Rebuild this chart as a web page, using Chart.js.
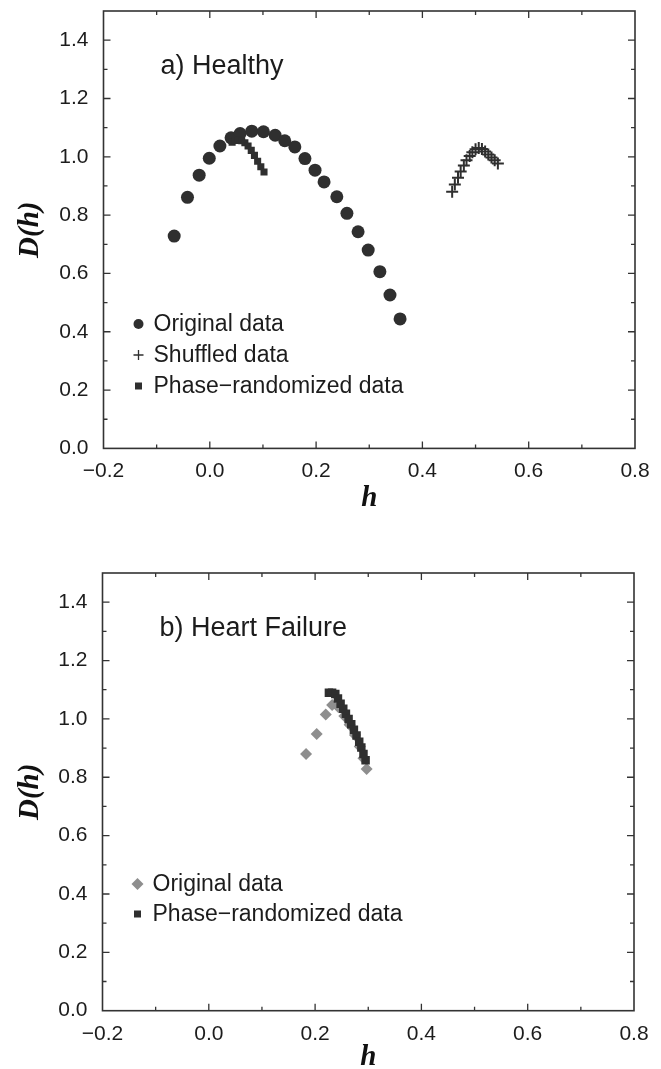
<!DOCTYPE html>
<html>
<head>
<meta charset="utf-8">
<script src="https://cdn.jsdelivr.net/npm/chart.js@4.4.0/dist/chart.umd.min.js"></script>
<style>
  html, body { margin: 0; padding: 0; background: #fff; overflow: hidden; }
  canvas { position: absolute; left: 0; }
  #topChart { top: 0; }
  #bottomChart { top: 530px; }
</style>
</head>
<body>
<canvas id="topChart" width="661" height="530"></canvas>
<canvas id="bottomChart" width="661" height="550"></canvas>
<script>
// a) Healthy
const healthyOrigH = [-0.067, -0.042, -0.020, -0.001, 0.019, 0.040, 0.057, 0.079, 0.101, 0.123, 0.141, 0.160, 0.179, 0.198, 0.215, 0.239, 0.258, 0.279, 0.298, 0.320, 0.339, 0.358];
const healthyOrigD = [0.728, 0.861, 0.937, 0.995, 1.037, 1.065, 1.080, 1.088, 1.086, 1.074, 1.055, 1.034, 0.994, 0.954, 0.914, 0.863, 0.806, 0.743, 0.680, 0.606, 0.526, 0.444];
const healthyShufH = [0.456, 0.461, 0.467, 0.472, 0.478, 0.483, 0.489, 0.494, 0.500, 0.506, 0.512, 0.518, 0.524, 0.530, 0.536, 0.542];
const healthyShufD = [0.880, 0.905, 0.928, 0.950, 0.970, 0.988, 1.003, 1.016, 1.026, 1.030, 1.027, 1.018, 1.008, 0.998, 0.988, 0.977];
const healthyPhaseH = [0.042, 0.048, 0.054, 0.060, 0.066, 0.072, 0.078, 0.084, 0.090, 0.096, 0.102];
const healthyPhaseD = [1.050, 1.056, 1.058, 1.055, 1.048, 1.037, 1.022, 1.005, 0.985, 0.966, 0.948];

// b) Heart Failure
const failOrigH = [0.183, 0.203, 0.220, 0.232, 0.244, 0.255, 0.265, 0.275, 0.284, 0.291, 0.297];
const failOrigD = [0.880, 0.948, 1.015, 1.048, 1.040, 1.010, 0.980, 0.945, 0.905, 0.865, 0.828];
const failPhaseH = [0.226, 0.232, 0.238, 0.243, 0.248, 0.253, 0.258, 0.263, 0.268, 0.273, 0.278, 0.283, 0.287, 0.291, 0.295];
const failPhaseD = [1.090, 1.090, 1.085, 1.070, 1.052, 1.035, 1.018, 1.000, 0.982, 0.963, 0.943, 0.922, 0.902, 0.880, 0.858];

// axis ranges
const hMin = -0.2, hMax = 0.8;
const dMin = 0.0, dMax = 1.5;

const pts = (xs, ys) => xs.map((x, i) => ({ x: x, y: ys[i] }));

const dark = '#2f2f2f';
const grey = '#8e8e8e';

// marker drawing for the in-plot legend
function drawMarker(ctx, kind, x, y) {
    ctx.save();
    if (kind === 'circle') {
        ctx.fillStyle = dark;
        ctx.beginPath(); ctx.arc(x, y, 5, 0, Math.PI * 2); ctx.fill();
    } else if (kind === 'plus') {
        ctx.strokeStyle = dark; ctx.lineWidth = 1.3;
        ctx.beginPath();
        ctx.moveTo(x - 5, y); ctx.lineTo(x + 5, y);
        ctx.moveTo(x, y - 5); ctx.lineTo(x, y + 5);
        ctx.stroke();
    } else if (kind === 'square') {
        ctx.fillStyle = dark;
        ctx.fillRect(x - 3.5, y - 3.5, 7, 7);
    } else if (kind === 'diamond') {
        ctx.fillStyle = grey;
        ctx.beginPath();
        ctx.moveTo(x, y - 6); ctx.lineTo(x + 6, y); ctx.lineTo(x, y + 6); ctx.lineTo(x - 6, y);
        ctx.closePath(); ctx.fill();
    }
    ctx.restore();
}

// frame, inward ticks on all sides, panel label and legend
const panelDecor = {
    id: 'panelDecor',
    afterDraw(chart, args, opts) {
        const { ctx, chartArea: a, scales } = chart;
        ctx.save();
        ctx.strokeStyle = '#333';
        ctx.lineWidth = 1.3;
        scales.x.ticks.forEach(t => {
            const px = scales.x.getPixelForValue(t.value);
            if (px <= a.left + 1 || px >= a.right - 1) return;
            const len = t.label ? 7 : 4;
            ctx.beginPath();
            ctx.moveTo(px, a.bottom); ctx.lineTo(px, a.bottom - len);
            ctx.moveTo(px, a.top); ctx.lineTo(px, a.top + len);
            ctx.stroke();
        });
        scales.y.ticks.forEach(t => {
            const py = scales.y.getPixelForValue(t.value);
            if (py <= a.top + 1 || py >= a.bottom - 1) return;
            const len = t.label ? 7 : 4;
            ctx.beginPath();
            ctx.moveTo(a.left, py); ctx.lineTo(a.left + len, py);
            ctx.moveTo(a.right, py); ctx.lineTo(a.right - len, py);
            ctx.stroke();
        });
        ctx.lineWidth = 1.6;
        ctx.strokeRect(a.left, a.top, a.right - a.left, a.bottom - a.top);

        ctx.fillStyle = '#1c1c1c';
        ctx.textBaseline = 'middle';
        ctx.textAlign = 'left';
        ctx.font = '27px "Liberation Sans", Arial, sans-serif';
        ctx.fillText(opts.title, a.left + opts.titleX, a.top + opts.titleY);

        ctx.font = '23px "Liberation Sans", Arial, sans-serif';
        opts.items.forEach((it, i) => {
            const y = a.top + opts.legendY + i * opts.legendStep;
            drawMarker(ctx, it.marker, a.left + 35, y);
            ctx.fillStyle = '#1c1c1c';
            ctx.fillText(it.text, a.left + 50, y + 1);
        });
        ctx.restore();
    }
};

const tickFont = { family: '"Liberation Sans", Arial, sans-serif', size: 21 };
const titleFont = { family: '"Liberation Serif", "DejaVu Serif", serif', size: 29, weight: 'bold', style: 'italic' };

function makePanel(id, datasets, decor, geo) {
    return new Chart(document.getElementById(id), {
        type: 'scatter',
        data: { datasets: datasets },
        plugins: [panelDecor],
        options: {
            responsive: false,
            animation: false,
            events: [],
            layout: { padding: { top: geo.top, right: geo.right, left: 0, bottom: 0 } },
            plugins: {
                legend: { display: false },
                tooltip: { enabled: false },
                panelDecor: decor
            },
            scales: {
                x: {
                    type: 'linear',
                    min: hMin, max: hMax,
                    border: { display: false },
                    grid: { display: false, drawTicks: false },
                    ticks: {
                        stepSize: 0.1, autoSkip: false, maxRotation: 0, includeBounds: false,
                        padding: geo.xPad, color: '#1c1c1c', font: tickFont,
                        callback: v => {
                            const k = Math.round(v * 10);
                            if (k % 2) return '';
                            return (k < 0 ? '\u2212' : '') + Math.abs(k / 10).toFixed(1);
                        }
                    },
                    title: { display: true, text: 'h', color: '#111', font: titleFont, padding: { top: 0, bottom: geo.hPad } },
                    afterFit: s => { s.height = geo.xHeight; s.paddingLeft = 0; s.paddingRight = 0; }
                },
                y: {
                    type: 'linear',
                    min: dMin, max: dMax,
                    border: { display: false },
                    grid: { display: false, drawTicks: false },
                    ticks: {
                        stepSize: 0.1, autoSkip: false, includeBounds: false,
                        padding: 15, color: '#1c1c1c', font: tickFont,
                        callback: v => {
                            const k = Math.round(v * 10);
                            return k % 2 ? '' : (k / 10).toFixed(1);
                        }
                    },
                    title: { display: true, text: 'D(h)', color: '#111', font: titleFont, padding: { top: 13, bottom: 0 } },
                    afterFit: s => { s.width = geo.left; s.paddingTop = 0; s.paddingBottom = 0; }
                }
            }
        }
    });
}

makePanel('topChart', [
    { label: 'Phase-randomized data', data: pts(healthyPhaseH, healthyPhaseD), pointStyle: 'rect', radius: 5, backgroundColor: dark, borderWidth: 0, order: 0 },
    { label: 'Original data', data: pts(healthyOrigH, healthyOrigD), pointStyle: 'circle', radius: 6.5, backgroundColor: dark, borderWidth: 0, order: 1 },
    { label: 'Shuffled data', data: pts(healthyShufH, healthyShufD), pointStyle: 'cross', radius: 6, borderColor: dark, borderWidth: 2, order: 2 }
], {
    title: 'a) Healthy', titleX: 57, titleY: 56,
    legendY: 313, legendStep: 31,
    items: [
        { marker: 'circle', text: 'Original data' },
        { marker: 'plus', text: 'Shuffled data' },
        { marker: 'square', text: 'Phase\u2212randomized data' }
    ]
}, { top: 11, right: 26, left: 103.5, xHeight: 81.6, xPad: 10, hPad: 14 });

makePanel('bottomChart', [
    { label: 'Phase-randomized data', data: pts(failPhaseH, failPhaseD), pointStyle: 'rect', radius: 6, backgroundColor: dark, borderWidth: 0, order: 0 },
    { label: 'Original data', data: pts(failOrigH, failOrigD), pointStyle: 'rectRot', radius: 6, backgroundColor: grey, borderWidth: 0, order: 1 }
], {
    title: 'b) Heart Failure', titleX: 57, titleY: 56,
    legendY: 311, legendStep: 30,
    items: [
        { marker: 'diamond', text: 'Original data' },
        { marker: 'square', text: 'Phase\u2212randomized data' }
    ]
}, { top: 43, right: 27, left: 102.5, xHeight: 69.3, xPad: 11, hPad: 5 });
</script>
</body>
</html>
